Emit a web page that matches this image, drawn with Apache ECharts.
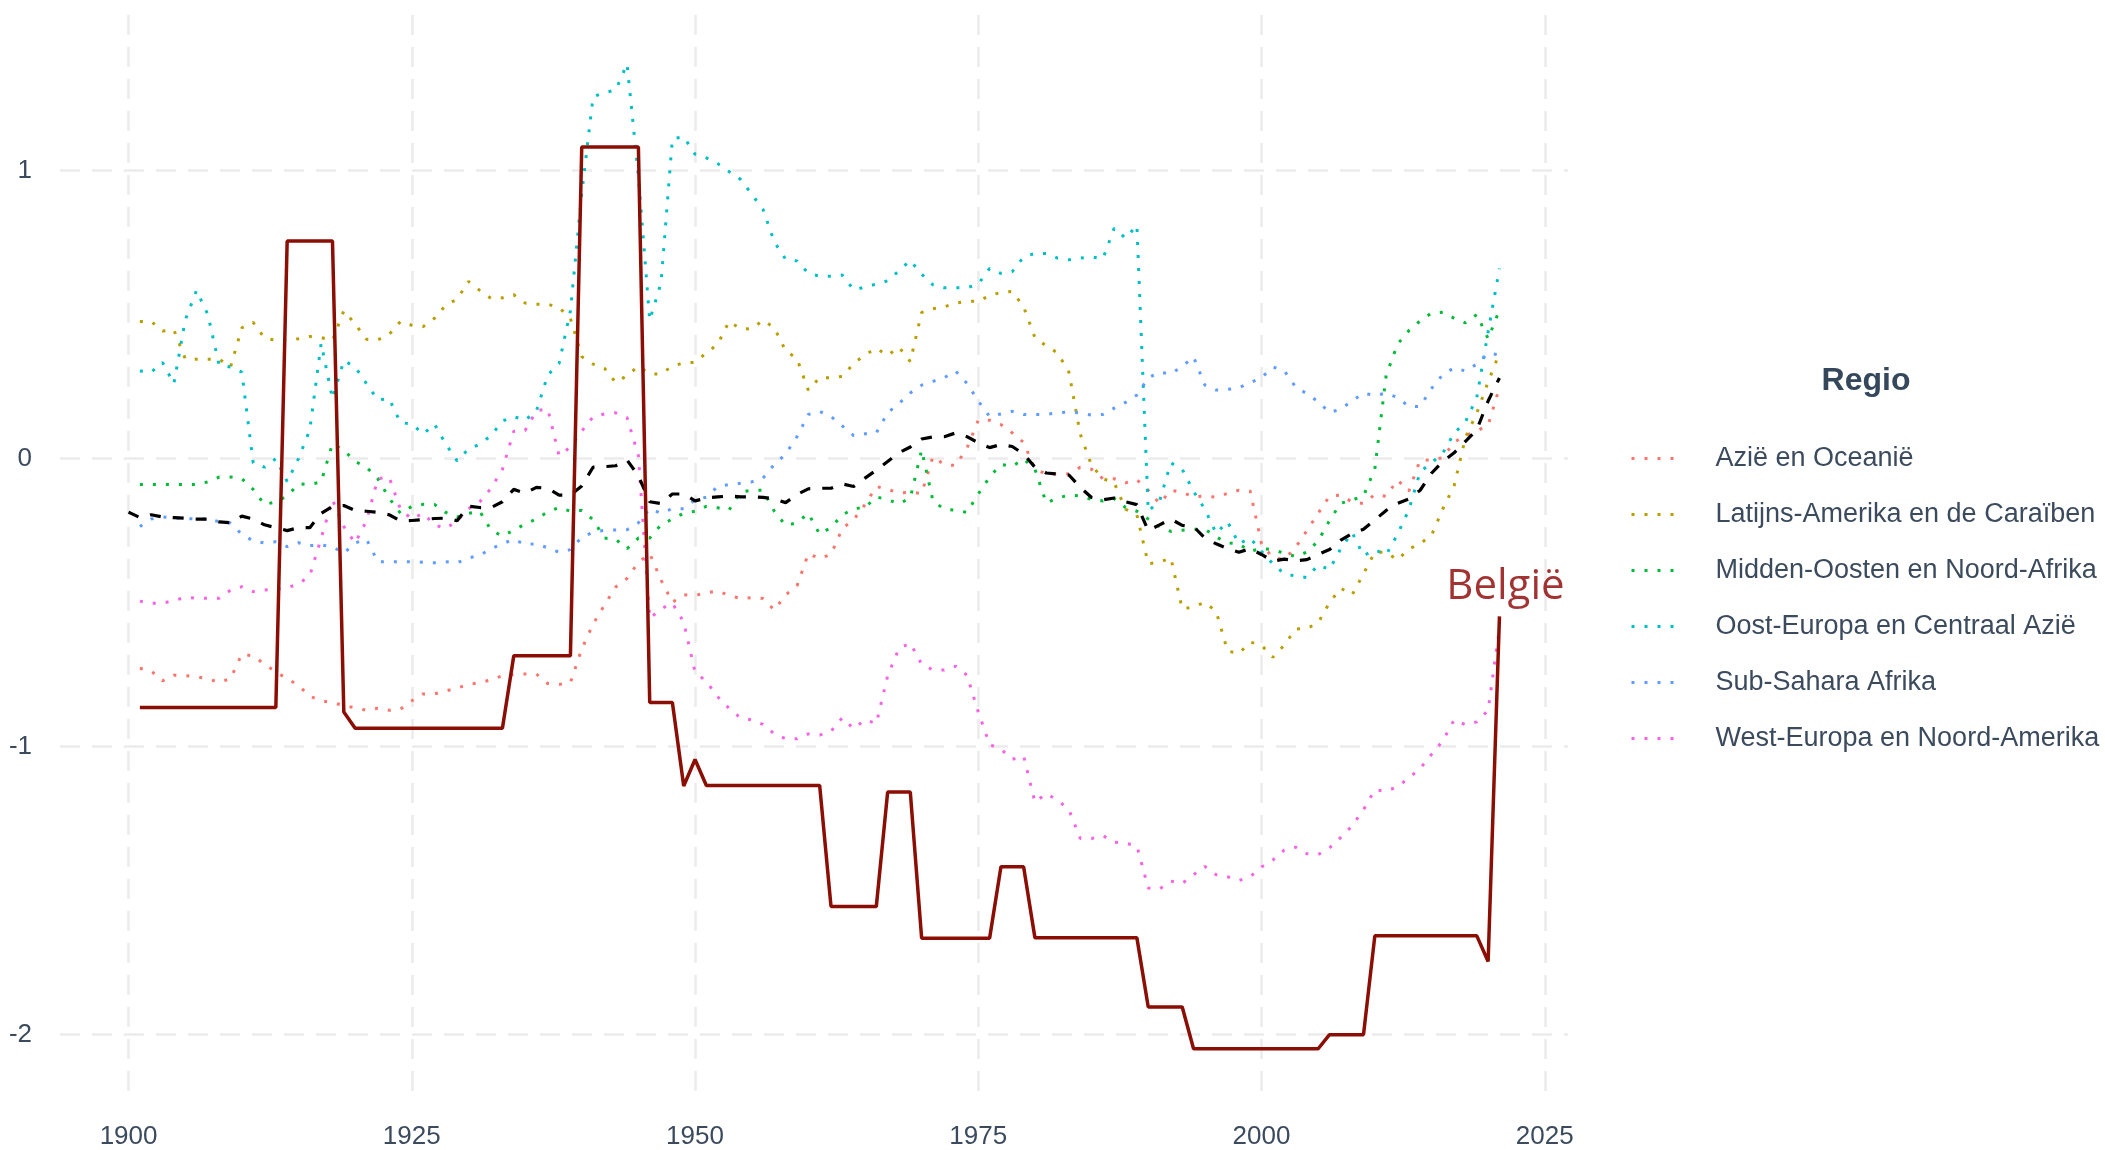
<!DOCTYPE html>
<html>
<head>
<meta charset="utf-8">
<script src="https://cdn.jsdelivr.net/npm/echarts@6/dist/echarts.min.js"></script>
<style>
  html, body { margin: 0; padding: 0; background: #fff; }
  #chart { width: 2105px; height: 1150px; }
</style>
</head>
<body>
<div id="chart"></div>
<script>
// jaren: wereldgemiddelde vanaf 1900, regio's en België vanaf 1901
const firstYear = 1900
const years = Array.from({ length: 122 }, (_, i) => firstYear + i)

const xTicks = [1900, 1925, 1950, 1975, 2000, 2025]
const yTicks = [-2, -1, 0, 1]

const regionNames = [
  'Azië en Oceanië',
  'Latijns-Amerika en de Caraïben',
  'Midden-Oosten en Noord-Afrika',
  'Oost-Europa en Centraal Azië',
  'Sub-Sahara Afrika',
  'West-Europa en Noord-Amerika'
]
const regionColors = ['#F8766D', '#B79F00', '#00BA38', '#00BFC4', '#619CFF', '#F564E3']

// 1901 - 2021
const azie = [
  -0.728, -0.737, -0.772, -0.752, -0.754, -0.757, -0.765, -0.777, -0.764, -0.679,
  -0.685, -0.714, -0.741, -0.764, -0.788, -0.825, -0.841, -0.847, -0.858, -0.865,
  -0.874, -0.867, -0.874, -0.870, -0.841, -0.817, -0.817, -0.807, -0.797, -0.784,
  -0.778, -0.768, -0.754, -0.750, -0.748, -0.748, -0.781, -0.784, -0.778, -0.661,
  -0.575, -0.509, -0.446, -0.416, -0.360, -0.330, -0.422, -0.499, -0.473, -0.475,
  -0.466, -0.460, -0.475, -0.486, -0.483, -0.486, -0.526, -0.473, -0.442, -0.330,
  -0.347, -0.333, -0.243, -0.212, -0.160, -0.097, -0.107, -0.119, -0.117, -0.121,
  0.007, -0.021, -0.024, 0.036, 0.133, 0.133, 0.118, 0.089, 0.056, -0.037,
  -0.053, -0.054, -0.053, -0.030, -0.037, -0.070, -0.070, -0.084, -0.074, -0.110,
  -0.156, -0.110, -0.117, -0.133, -0.130, -0.134, -0.121, -0.110, -0.113, -0.296,
  -0.345, -0.350, -0.309, -0.250, -0.190, -0.130, -0.127, -0.151, -0.156, -0.125,
  -0.131, -0.074, -0.113, -0.005, -0.005, 0.003, 0.057, 0.080, 0.096, 0.116, 0.247
]

const latijnsAmerika = [
  0.476, 0.476, 0.443, 0.447, 0.347, 0.345, 0.345, 0.345, 0.318, 0.454,
  0.473, 0.418, 0.411, 0.410, 0.416, 0.424, 0.420, 0.410, 0.513, 0.467,
  0.414, 0.412, 0.431, 0.476, 0.463, 0.458, 0.487, 0.533, 0.553, 0.615,
  0.584, 0.556, 0.558, 0.569, 0.540, 0.536, 0.536, 0.524, 0.487, 0.354,
  0.328, 0.314, 0.264, 0.288, 0.321, 0.294, 0.294, 0.321, 0.332, 0.334,
  0.367, 0.397, 0.476, 0.451, 0.450, 0.480, 0.454, 0.374, 0.347, 0.237,
  0.281, 0.281, 0.285, 0.330, 0.360, 0.383, 0.358, 0.387, 0.337, 0.507,
  0.520, 0.527, 0.540, 0.546, 0.546, 0.566, 0.577, 0.580, 0.527, 0.420,
  0.391, 0.367, 0.300, 0.085, -0.024, -0.070, -0.084, -0.176, -0.196, -0.365,
  -0.360, -0.345, -0.522, -0.515, -0.499, -0.531, -0.668, -0.677, -0.637, -0.648,
  -0.690, -0.648, -0.592, -0.590, -0.570, -0.500, -0.450, -0.473, -0.400, -0.325,
  -0.325, -0.352, -0.314, -0.295, -0.267, -0.175, -0.094, 0.073, 0.158, 0.266, 0.366
]

const middenOosten = [
  -0.090, -0.090, -0.090, -0.090, -0.090, -0.090, -0.081, -0.064, -0.064, -0.070,
  -0.107, -0.160, -0.150, -0.130, -0.088, -0.090, -0.081, 0.052, 0.029, -0.010,
  -0.030, -0.070, -0.137, -0.190, -0.166, -0.159, -0.159, -0.187, -0.203, -0.190,
  -0.183, -0.249, -0.269, -0.249, -0.227, -0.210, -0.185, -0.170, -0.183, -0.180,
  -0.212, -0.276, -0.280, -0.313, -0.276, -0.276, -0.230, -0.210, -0.190, -0.183,
  -0.166, -0.171, -0.179, -0.117, -0.110, -0.110, -0.183, -0.232, -0.223, -0.190,
  -0.263, -0.239, -0.196, -0.174, -0.170, -0.133, -0.143, -0.157, -0.137, 0.030,
  -0.147, -0.176, -0.179, -0.187, -0.123, -0.064, -0.020, -0.027, -0.001, -0.037,
  -0.154, -0.137, -0.127, -0.130, -0.142, -0.147, -0.139, -0.170, -0.183, -0.210,
  -0.236, -0.253, -0.249, -0.245, -0.245, -0.272, -0.293, -0.296, -0.322, -0.312,
  -0.316, -0.329, -0.340, -0.325, -0.286, -0.215, -0.155, -0.144, -0.130, -0.036,
  0.289, 0.397, 0.444, 0.478, 0.505, 0.508, 0.487, 0.471, 0.500, 0.416, 0.516
]

const oostEuropa = [
  0.304, 0.300, 0.334, 0.260, 0.480, 0.584, 0.500, 0.324, 0.318, 0.300,
  -0.015, -0.030, 0.000, -0.080, 0.000, 0.100, 0.400, 0.208, 0.340, 0.318,
  0.260, 0.204, 0.208, 0.125, 0.120, 0.085, 0.120, 0.050, -0.008, 0.033,
  0.050, 0.080, 0.130, 0.146, 0.133, 0.165, 0.290, 0.330, 0.513, 0.920,
  1.256, 1.270, 1.280, 1.370, 0.980, 0.480, 0.610, 1.110, 1.117, 1.057,
  1.044, 1.024, 0.997, 0.970, 0.918, 0.865, 0.752, 0.692, 0.686, 0.643,
  0.633, 0.633, 0.637, 0.586, 0.595, 0.606, 0.617, 0.652, 0.688, 0.640,
  0.603, 0.593, 0.593, 0.593, 0.606, 0.660, 0.643, 0.649, 0.700, 0.712,
  0.712, 0.696, 0.690, 0.696, 0.700, 0.694, 0.800, 0.765, 0.810, -0.183,
  -0.147, -0.015, -0.037, -0.114, -0.176, -0.260, -0.219, -0.296, -0.276, -0.322,
  -0.365, -0.400, -0.408, -0.413, -0.370, -0.385, -0.312, -0.257, -0.337, -0.317,
  -0.334, -0.263, -0.178, -0.046, -0.015, 0.019, 0.088, 0.127, 0.212, 0.440, 0.660
]

const subSahara = [
  -0.236, -0.210, -0.203, -0.206, -0.208, -0.210, -0.210, -0.219, -0.224, -0.263,
  -0.286, -0.293, -0.289, -0.306, -0.292, -0.302, -0.300, -0.306, -0.329, -0.293,
  -0.280, -0.358, -0.358, -0.358, -0.358, -0.360, -0.362, -0.358, -0.362, -0.345,
  -0.336, -0.313, -0.296, -0.280, -0.298, -0.296, -0.310, -0.325, -0.316, -0.273,
  -0.256, -0.249, -0.248, -0.247, -0.223, -0.174, -0.190, -0.174, -0.174, -0.143,
  -0.134, -0.097, -0.090, -0.086, -0.081, -0.068, -0.020, 0.016, 0.076, 0.153,
  0.164, 0.146, 0.113, 0.080, 0.086, 0.089, 0.159, 0.191, 0.228, 0.255,
  0.268, 0.281, 0.304, 0.261, 0.200, 0.146, 0.155, 0.164, 0.153, 0.153,
  0.153, 0.159, 0.162, 0.158, 0.151, 0.153, 0.175, 0.195, 0.221, 0.280,
  0.300, 0.294, 0.320, 0.353, 0.255, 0.238, 0.240, 0.246, 0.263, 0.281,
  0.318, 0.305, 0.249, 0.225, 0.198, 0.160, 0.172, 0.200, 0.227, 0.219,
  0.227, 0.212, 0.181, 0.181, 0.243, 0.292, 0.315, 0.304, 0.328, 0.366, 0.360
]

const westEuropa = [
  -0.495, -0.502, -0.502, -0.493, -0.482, -0.485, -0.485, -0.485, -0.457, -0.445,
  -0.462, -0.456, -0.453, -0.448, -0.436, -0.406, -0.276, -0.143, -0.236, -0.293,
  -0.216, -0.070, -0.064, -0.176, -0.210, -0.190, -0.230, -0.243, -0.216, -0.174,
  -0.150, -0.103, -0.037, 0.095, 0.097, 0.166, 0.172, 0.010, 0.040, 0.095,
  0.145, 0.155, 0.159, 0.142, 0.010, -0.555, -0.522, -0.502, -0.568, -0.741,
  -0.774, -0.827, -0.867, -0.900, -0.907, -0.923, -0.956, -0.973, -0.973, -0.956,
  -0.960, -0.947, -0.900, -0.938, -0.907, -0.920, -0.754, -0.659, -0.641, -0.714,
  -0.734, -0.734, -0.721, -0.752, -0.880, -0.993, -1.009, -1.044, -1.033, -1.193,
  -1.163, -1.186, -1.219, -1.319, -1.319, -1.309, -1.332, -1.335, -1.345, -1.491,
  -1.494, -1.467, -1.475, -1.445, -1.416, -1.445, -1.452, -1.465, -1.452, -1.418,
  -1.394, -1.359, -1.349, -1.372, -1.375, -1.352, -1.315, -1.275, -1.219, -1.150,
  -1.155, -1.139, -1.109, -1.076, -1.027, -0.980, -0.907, -0.924, -0.914, -0.874, -0.588
]

// wereldgemiddelde, 1900 - 2021
const wereld = [
  -0.186, -0.205, -0.195, -0.203, -0.205, -0.207, -0.210, -0.210, -0.220, -0.223, -0.200,
  -0.210, -0.230, -0.240, -0.250, -0.240, -0.240, -0.190, -0.166, -0.163, -0.180,
  -0.183, -0.187, -0.195, -0.216, -0.215, -0.212, -0.208, -0.207, -0.216, -0.165,
  -0.170, -0.170, -0.150, -0.107, -0.120, -0.100, -0.103, -0.127, -0.127, -0.095,
  -0.030, -0.028, -0.025, -0.005, -0.060, -0.150, -0.156, -0.123, -0.123, -0.147,
  -0.137, -0.133, -0.130, -0.133, -0.133, -0.135, -0.140, -0.153, -0.125, -0.105,
  -0.103, -0.103, -0.088, -0.097, -0.068, -0.040, -0.010, 0.020, 0.040, 0.068,
  0.075, 0.076, 0.089, 0.076, 0.055, 0.038, 0.049, 0.042, 0.016, -0.030,
  -0.050, -0.054, -0.057, -0.100, -0.135, -0.143, -0.137, -0.150, -0.160, -0.250,
  -0.230, -0.210, -0.232, -0.236, -0.276, -0.296, -0.313, -0.325, -0.313, -0.333,
  -0.356, -0.349, -0.355, -0.351, -0.333, -0.316, -0.283, -0.260, -0.245, -0.213,
  -0.180, -0.156, -0.140, -0.110, -0.051, -0.010, 0.020, 0.060, 0.100, 0.200, 0.280
]

// België, 1901 - 2021
const belgie = [
  -0.864, -0.864, -0.864, -0.864, -0.864, -0.864, -0.864, -0.864, -0.864, -0.864,
  -0.864, -0.864, -0.864, 0.755, 0.755, 0.755, 0.755, 0.755, -0.880, -0.936,
  -0.936, -0.936, -0.936, -0.936, -0.936, -0.936, -0.936, -0.936, -0.936, -0.936,
  -0.936, -0.936, -0.936, -0.685, -0.685, -0.685, -0.685, -0.685, -0.685, 1.082,
  1.082, 1.082, 1.082, 1.082, 1.082, -0.847, -0.847, -0.847, -1.137, -1.045,
  -1.135, -1.135, -1.135, -1.135, -1.135, -1.135, -1.135, -1.135, -1.135, -1.135,
  -1.135, -1.555, -1.555, -1.555, -1.555, -1.555, -1.158, -1.158, -1.158, -1.665,
  -1.665, -1.665, -1.665, -1.665, -1.665, -1.665, -1.417, -1.417, -1.417, -1.664,
  -1.664, -1.664, -1.664, -1.664, -1.664, -1.664, -1.664, -1.664, -1.664, -1.904,
  -1.904, -1.904, -1.904, -2.049, -2.049, -2.049, -2.049, -2.049, -2.049, -2.049,
  -2.049, -2.049, -2.049, -2.049, -2.049, -2.000, -2.000, -2.000, -2.000, -1.657,
  -1.657, -1.657, -1.657, -1.657, -1.657, -1.657, -1.657, -1.657, -1.657, -1.746, -0.548
]

const regionValues = [azie, latijnsAmerika, middenOosten, oostEuropa, subSahara, westEuropa]

const textColor = '#3B4B5D'
const fontFamily = '"Liberation Sans", Arial, sans-serif'

// koppel waarden aan jaartallen (reeksen die in 1901 beginnen schuiven 1 op)
const pairs = (values) => values.map((v, i) => [years[years.length - values.length + i], v])

const chart = echarts.init(document.getElementById('chart'))

const regionSeries = regionNames.map((name, i) => ({
  name: name,
  type: 'line',
  data: pairs(regionValues[i]),
  symbol: 'none',
  color: regionColors[i],
  lineStyle: { color: regionColors[i], width: 3, type: [3, 10], cap: 'butt' },
  z: 2
}))

const lastBelgie = pairs(belgie)[belgie.length - 1]

const option = {
  animation: false,
  backgroundColor: '#ffffff',
  grid: { left: 60, right: 537, top: 15, bottom: 51 },
  xAxis: {
    type: 'value',
    min: 1893.95,
    max: 2027.05,
    axisLine: { show: false },
    axisTick: { show: false, customValues: xTicks },
    axisLabel: {
      customValues: xTicks,
      formatter: (v) => String(v),
      fontSize: 26,
      color: textColor,
      fontFamily: fontFamily,
      margin: 26
    },
    splitLine: { show: true, lineStyle: { color: '#EBEBEB', width: 2.5, type: [20, 12] } }
  },
  yAxis: {
    type: 'value',
    min: -2.22,
    max: 1.54,
    axisLine: { show: false },
    axisTick: { show: false, customValues: yTicks },
    axisLabel: {
      customValues: yTicks,
      formatter: (v) => String(v),
      fontSize: 26,
      color: textColor,
      fontFamily: fontFamily,
      margin: 28
    },
    splitLine: { show: true, lineStyle: { color: '#EBEBEB', width: 2.5, type: [20, 12] } }
  },
  legend: {
    orient: 'vertical',
    left: 1625,
    top: 440,
    itemWidth: 52,
    itemHeight: 30,
    itemGap: 29,
    selectedMode: false,
    data: regionNames,
    itemStyle: { opacity: 0 },
    lineStyle: { width: 3 },
    textStyle: { fontSize: 27, color: textColor, fontFamily: fontFamily, padding: [0, 0, 0, 27] }
  },
  graphic: [{
    type: 'text',
    x: 1866,
    y: 381,
    style: {
      text: 'Regio',
      fill: '#34475B',
      font: 'bold 32px "Liberation Sans", Arial, sans-serif',
      textAlign: 'center',
      textVerticalAlign: 'middle'
    }
  }],
  series: [
    ...regionSeries,
    {
      name: 'Wereld',
      type: 'line',
      data: pairs(wereld),
      symbol: 'none',
      lineStyle: { color: '#000000', width: 3.2, type: [11, 12], cap: 'butt' },
      z: 3
    },
    {
      name: 'België',
      type: 'line',
      data: pairs(belgie),
      symbol: 'none',
      lineStyle: { color: '#8B0E04', width: 3.5 },
      z: 4
    },
    {
      name: 'België label',
      type: 'scatter',
      data: [lastBelgie],
      symbolSize: 1,
      itemStyle: { color: 'rgba(0,0,0,0)' },
      label: {
        show: true,
        formatter: 'België',
        position: 'top',
        distance: 8,
        offset: [6, 0],
        color: '#8B0000',
        fontSize: 42,
        fontFamily: '"Open Sans", "Noto Sans", sans-serif'
      },
      z: 5
    }
  ]
}

chart.setOption(option)
</script>
</body>
</html>
